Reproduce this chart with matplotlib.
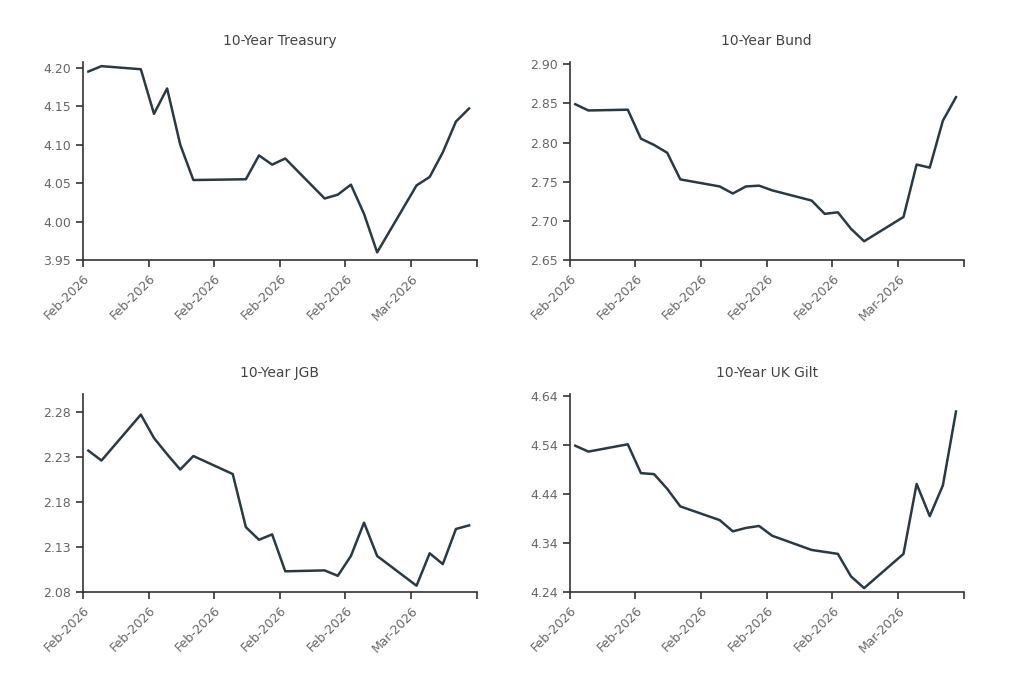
import matplotlib
matplotlib.use("Agg")
import matplotlib.pyplot as plt
import matplotlib.dates as mdates
import pandas as pd

tsy_dates = ["2026-02-05","2026-02-06","2026-02-09","2026-02-10","2026-02-11","2026-02-12","2026-02-13",
             "2026-02-17","2026-02-18","2026-02-19","2026-02-20","2026-02-23","2026-02-24","2026-02-25",
             "2026-02-26","2026-02-27","2026-03-02","2026-03-03","2026-03-04","2026-03-05","2026-03-06"]
tsy_vals = [4.195,4.202,4.198,4.140,4.173,4.100,4.054,4.055,4.086,4.074,4.082,4.030,4.035,4.048,
            4.010,3.960,4.047,4.058,4.090,4.130,4.147]

all_dates = ["2026-02-05","2026-02-06","2026-02-09","2026-02-10","2026-02-11","2026-02-12","2026-02-13",
             "2026-02-16","2026-02-17","2026-02-18","2026-02-19","2026-02-20","2026-02-23","2026-02-24",
             "2026-02-25","2026-02-26","2026-02-27","2026-03-02","2026-03-03","2026-03-04","2026-03-05","2026-03-06"]
bund_vals = [2.849,2.841,2.842,2.805,2.797,2.787,2.753,2.744,2.735,2.744,2.745,2.739,2.726,2.709,
             2.711,2.690,2.674,2.705,2.772,2.768,2.828,2.858]
jgb_vals = [2.237,2.226,2.277,2.251,2.233,2.216,2.231,2.211,2.152,2.138,2.144,2.103,2.104,2.098,
            2.120,2.157,2.120,2.087,2.123,2.111,2.150,2.154]
gilt_vals = [4.539,4.527,4.542,4.483,4.481,4.451,4.415,4.387,4.364,4.371,4.375,4.355,4.326,4.322,
             4.318,4.272,4.248,4.318,4.461,4.395,4.458,4.609]

titles = ["10-Year Treasury", "10-Year Bund", "10-Year JGB", "10-Year UK Gilt"]
series = [(tsy_dates, tsy_vals), (all_dates, bund_vals), (all_dates, jgb_vals), (all_dates, gilt_vals)]
yticks = [[3.95,4.00,4.05,4.10,4.15,4.20],[2.65,2.70,2.75,2.80,2.85,2.90],
          [2.08,2.13,2.18,2.23,2.28],[4.24,4.34,4.44,4.54,4.64]]
ylims = [(3.95,4.2075),(2.65,2.903),(2.08,2.30),(4.24,4.645)]
tick_dates = ["2026-02-05","2026-02-10","2026-02-15","2026-02-20","2026-02-25","2026-03-02","2026-03-07"]

fig = plt.figure(figsize=(10.23,6.88), dpi=100)
positions = [(0.081,0.622),(0.557,0.622),(0.081,0.1395),(0.557,0.1395)]
line_c = "#2b3a42"
for i,(pos,(d,v)) in enumerate(zip(positions, series)):
    ax = fig.add_axes([pos[0], pos[1], 0.385, 0.288])
    x = pd.to_datetime(d) + pd.Timedelta(hours=10)
    ax.plot(x, v, color=line_c, lw=1.8)
    ax.set_xlim(pd.Timestamp("2026-02-05"), pd.Timestamp("2026-03-07"))
    ax.set_ylim(*ylims[i])
    ax.set_yticks(yticks[i])
    ax.set_yticklabels([f"{t:.2f}" for t in yticks[i]])
    td = pd.to_datetime(tick_dates)
    ax.set_xticks(td)
    ax.set_xticklabels([t.strftime("%b-%Y") for t in td[:-1]] + [""], rotation=45, ha="right",
                       rotation_mode="anchor")
    for s in ["top","right"]:
        ax.spines[s].set_visible(False)
    for s in ["left","bottom"]:
        ax.spines[s].set_color("#333333")
        ax.spines[s].set_linewidth(1.2)
    ax.tick_params(colors="#333333", labelcolor="#666666", labelsize=9, length=5, width=1.2)
    ax.set_title(titles[i], fontsize=10, color="#444444", pad=12)

fig.savefig("out.png", dpi=100, facecolor="white")
